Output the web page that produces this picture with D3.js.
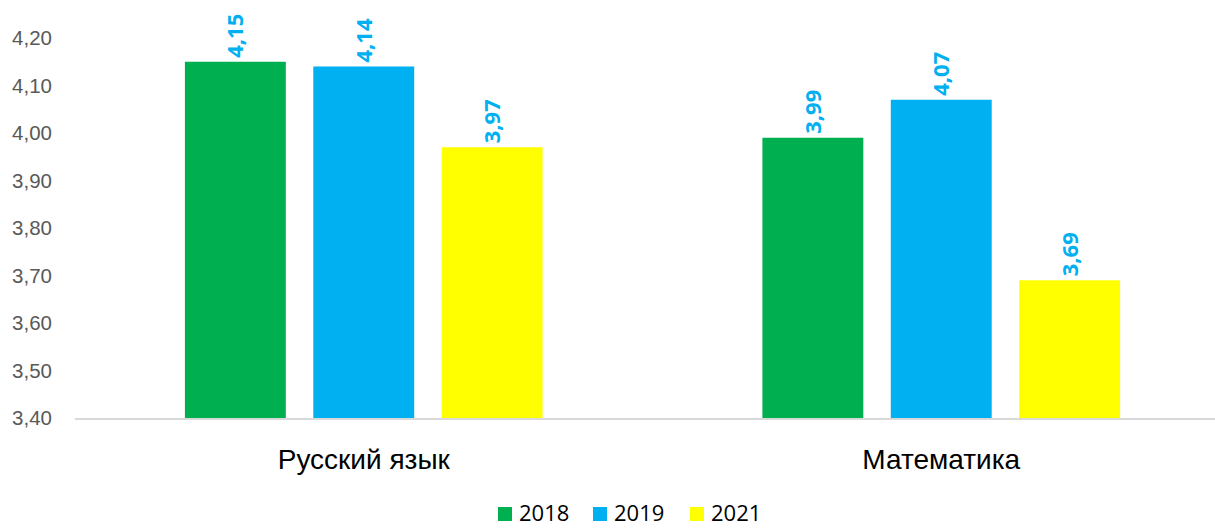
<!DOCTYPE html>
<html>
<head>
<meta charset="utf-8">
<script src="https://cdn.jsdelivr.net/npm/d3@7"></script>
<style>
  body { margin: 0; background: #fff; }
  svg { display: block; font-family: "Open Sans", Lato, sans-serif; }
</style>
</head>
<body>
<svg id="chart"></svg>
<script>
// data
const subjects = ["Русский язык", "Математика"];
const years = ["2018", "2019", "2021"];
const scores2018 = [4.15, 3.99];
const scores2019 = [4.14, 4.07];
const scores2021 = [3.97, 3.69];
const yTicks = [3.4, 3.5, 3.6, 3.7, 3.8, 3.9, 4.0, 4.1, 4.2];
const colors = ["#00B050", "#00B0F0", "#FFFF00"];

const series = [scores2018, scores2019, scores2021];
const rows = [];
subjects.forEach((s, i) => {
    years.forEach((y, j) => rows.push({subject: s, year: y, value: series[j][i]}));
});

const width = 1215, height = 529;
const margin = {top: 38, right: -15, bottom: 111, left: 75};
const innerW = width - margin.left - margin.right;
const innerH = height - margin.top - margin.bottom;

const svg = d3.select('#chart')
    .attr('width', width)
    .attr('height', height);

const chart = svg.append('g')
    .attr('transform', `translate(${margin.left},${margin.top})`);

// scales
const xScale = d3.scaleBand()
    .domain(subjects)
    .range([0, innerW]);

const xInner = d3.scaleBand()
    .domain(years)
    .range([0, xScale.bandwidth()])
    .paddingInner(0.214)
    .paddingOuter(0.856);

const yScale = d3.scaleLinear()
    .domain([3.4, 4.2])
    .range([innerH, 0]);

const fmt = d => d3.format('.2f')(d).replace('.', ',');

// y axis labels only
const yAxis = d3.axisLeft(yScale)
    .tickValues(yTicks)
    .tickFormat(fmt)
    .tickSize(0)
    .tickPadding(23);

const yAxisG = chart.append('g').call(yAxis);
yAxisG.select('.domain').remove();
yAxisG.selectAll('text')
    .attr('fill', '#595959')
    .style('font-size', '20.5px');

// bars
chart.selectAll('.bar')
    .data(rows)
    .join('rect')
    .attr('class', 'bar')
    .attr('x', d => xScale(d.subject) + xInner(d.year))
    .attr('width', xInner.bandwidth())
    .attr('y', d => yScale(d.value))
    .attr('height', d => innerH - yScale(d.value))
    .attr('fill', d => colors[years.indexOf(d.year)]);

// value labels
chart.selectAll('.val')
    .data(rows)
    .join('text')
    .attr('class', 'val')
    .attr('transform', d => `translate(${xScale(d.subject) + xInner(d.year) + xInner.bandwidth() / 2 + 8},${yScale(d.value) - 4}) rotate(-90)`)
    .attr('fill', '#00B0F0')
    .style('font-size', '22px')
    .style('font-weight', '700')
    .text(d => fmt(d.value));

// baseline
chart.append('line')
    .attr('x1', 0)
    .attr('x2', innerW)
    .attr('y1', innerH + 1)
    .attr('y2', innerH + 1)
    .attr('stroke', '#D9D9D9')
    .attr('stroke-width', 2);

// x axis labels
const xAxis = d3.axisBottom(xScale).tickSize(0).tickPadding(31);
const xAxisG = chart.append('g')
    .attr('transform', `translate(0,${innerH})`)
    .call(xAxis);
xAxisG.select('.domain').remove();
xAxisG.selectAll('text')
    .attr('fill', '#000')
    .style('font-size', '28px');

// legend
const legendX = [498, 593, 690];
const legend = svg.append('g');
years.forEach((y, i) => {
    legend.append('rect')
        .attr('x', legendX[i])
        .attr('y', 507)
        .attr('width', 14)
        .attr('height', 14)
        .attr('fill', colors[i]);
    legend.append('text')
        .attr('x', legendX[i] + 21)
        .attr('y', 521)
        .attr('fill', '#000')
        .style('font-size', '22px')
        .text(y);
});
</script>
</body>
</html>
